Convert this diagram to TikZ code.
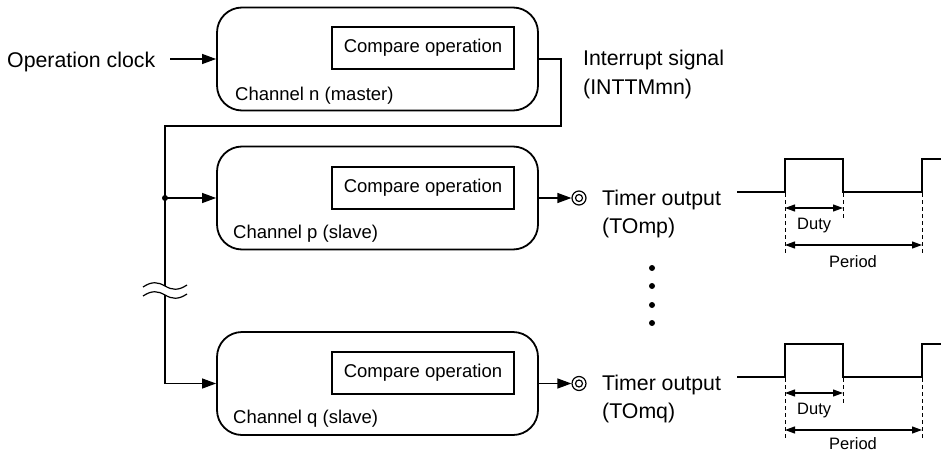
\documentclass[tikz,border=0pt]{standalone}
\usepackage{fontspec}
\setmainfont{Liberation Sans}
\usetikzlibrary{arrows.meta}
\begin{document}
\begin{tikzpicture}[x=1pt,y=-1pt,
  chbox/.style={draw,line width=1.8pt,rounded corners=25pt,minimum width=321pt,minimum height=103pt,inner sep=0},
  cmpbox/.style={draw,line width=1.4pt,minimum width=182pt,minimum height=42pt,inner sep=0,font=\fontsize{18.5}{22}\selectfont},
  lbl/.style={anchor=base west,inner sep=0,font=\fontsize{21.3}{25}\selectfont},
  chlbl/.style={anchor=base west,inner sep=0,font=\fontsize{18.5}{22}\selectfont},
  smlbl/.style={anchor=base west,inner sep=0,font=\fontsize{16.5}{20}\selectfont},
  conn/.style={line width=1.2pt},
  arr/.style={conn,-{Triangle[length=14pt,width=10pt]}},
  darr/.style={line width=1.1pt,{Triangle[length=10pt,width=7pt]}-{Triangle[length=10pt,width=7pt]}},
  wave/.style={line width=1.8pt},
  dashln/.style={line width=0.8pt,dash pattern=on 4pt off 3pt},
  outc/.style={circle,draw,line width=1.2pt,minimum size=14pt,inner sep=0},
  bigdot/.style={circle,fill,minimum size=6pt,inner sep=0}
]
\useasboundingbox (0,0) rectangle (941,452);

% channel boxes
\node[chbox] (m) at (377.5,59) {};
\node[chbox] (p) at (377.5,198) {};
\node[chbox] (q) at (377.5,383.5) {};

\node[cmpbox] (mc) at (423,48) {Compare operation};
\node[cmpbox] (pc) at (423,188) {Compare operation};
\node[cmpbox] (qc) at (423,373) {Compare operation};

\node[chlbl] (ml) at (235,100) {Channel n (master)};
\node[chlbl] (pl) at (233,238) {Channel p (slave)};
\node[chlbl] (ql) at (233,423) {Channel q (slave)};

% operation clock
\node[lbl] (clk) at (7,67) {Operation clock};
\coordinate (clkend) at (170,59);
\draw[arr] (clkend) -- (m.west);

% interrupt signal
\node[lbl] (int1) at (583,65) {Interrupt signal};
\node[lbl] (int2) at (583,94) {(INTTMmn)};
\coordinate (ic) at (561,126);
\coordinate (bus) at (165,126);
\coordinate (brkA) at (165,286);
\coordinate (brkB) at (165,295);
\node[bigdot] (dp) at (165,198) {};
\draw[conn] (m.east) -| (ic) -- (bus) -- (dp.center) -- (brkA);
\draw[arr] (brkB) |- (q.west);
\draw[arr] (dp.center) -- (p.west);
% break marks
\draw[conn] (143,287) .. controls (152,281) and (158,282) .. (165,286) .. controls (172,290) and (178,291) .. (187,285);
\draw[conn] (143,296) .. controls (152,290) and (158,291) .. (165,295) .. controls (172,299) and (178,300) .. (187,294);

% outputs
\node[outc] (op) at (579,198) {};
\draw[line width=1.2pt] (op.center) circle (3.5pt);
\draw[arr] (p.east) -- (op.west);
\node[lbl] (tp1) at (602,205) {Timer output};
\node[lbl] (tp2) at (602,233) {(TOmp)};

\node[outc] (oq) at (579,383.5) {};
\draw[line width=1.2pt] (oq.center) circle (3.5pt);
\draw[arr] (q.east) -- (oq.west);
\node[lbl] (tq1) at (602,390) {Timer output};
\node[lbl] (tq2) at (602,418) {(TOmq)};

% dots
\foreach \yy in {268,286,305,323} \fill (652,\yy) circle (3pt);

% waveforms
\foreach \dy/\nm/\pb in {0/p/267,185/q/264} {
  \begin{scope}[yshift=-\dy pt]
  \draw[wave] (737,192) -- (785,192) -- (785,159) -- (843,159) -- (843,192) -- (922,192) -- (922,159) -- (945,159);
  \draw[dashln] (785,193) -- (785,253);
  \draw[dashln] (843,193) -- (843,218);
  \draw[dashln] (922,193) -- (922,253);
  \draw[darr] (785,208) -- (843,208);
  \draw[darr] (785,245) -- (922,245);
  \node[smlbl] (duty\nm) at (797,229) {Duty};
  \node[smlbl] (per\nm) at (829,\pb) {Period};
  \end{scope}
}
\end{tikzpicture}
\end{document}
